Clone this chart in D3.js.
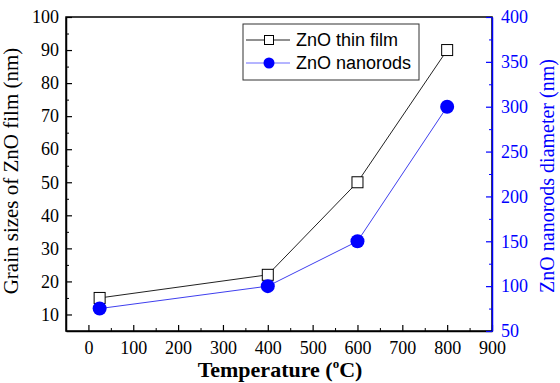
<!DOCTYPE html>
<html>
<head>
<meta charset="utf-8">
<script src="https://cdn.jsdelivr.net/npm/d3@7"></script>
<style>
  body { margin: 0; background: #fff; }
  svg { display: block; }
</style>
</head>
<body>
<div id="chart"></div>
<script>
// data
var temperatures = [25, 400, 600, 800];
var filmGrain = [15, 22, 50, 90];          // left axis, nm
var rodDiameter = [75, 100, 150, 300];     // right axis, nm
var xTicks = [0, 100, 200, 300, 400, 500, 600, 700, 800, 900];
var yLeftTicks = [10, 20, 30, 40, 50, 60, 70, 80, 90, 100];
var yRightTicks = [50, 100, 150, 200, 250, 300, 350, 400];
var seriesNames = ["ZnO thin film", "ZnO nanorods"];

var svgWidth = 560, svgHeight = 383;
var margin = { top: 17, right: 68, bottom: 52, left: 66 };
var width = svgWidth - margin.left - margin.right;
var height = svgHeight - margin.top - margin.bottom;
var blue = "#0000ff";
var lineBlue = "#3f3fee";
var serif = "'Liberation Serif', 'Times New Roman', serif";
var sans = "'Liberation Sans', Arial, sans-serif";

var svg = d3.select("#chart").append("svg")
    .attr("width", svgWidth)
    .attr("height", svgHeight)
    .append("g")
    .attr("transform", "translate(" + margin.left + "," + margin.top + ")");

var x = d3.scaleLinear().domain([-50, 900]).range([0, width]);
var yL = d3.scaleLinear().domain([5, 100]).range([height, 0]);
var yR = d3.scaleLinear().domain([50, 400]).range([height, 0]);

// frame
svg.append("rect")
    .attr("width", width).attr("height", height)
    .attr("fill", "none").attr("stroke", "#000").attr("stroke-width", 1.5);

function styleAxis(g, color) {
    g.attr("font-family", serif).attr("font-size", 18);
    g.select(".domain").attr("stroke", color).attr("stroke-width", 1.5);
    g.selectAll(".tick line").attr("stroke", color).attr("stroke-width", 1.2);
    g.selectAll("text").attr("fill", color)
        .style("font-family", serif).style("font-size", "18px");
}

// minor ticks
var xMinor = d3.range(50, 900, 100);
var yLMinor = d3.range(15, 100, 10);
var yRMinor = d3.range(75, 400, 50);

svg.append("g").attr("transform", "translate(0," + height + ")")
    .call(d3.axisBottom(x).tickValues(xMinor).tickSize(-3).tickFormat(""))
    .call(function(g) { g.select(".domain").remove(); g.selectAll("line").attr("stroke", "#000"); });
svg.append("g")
    .call(d3.axisLeft(yL).tickValues(yLMinor).tickSize(-3).tickFormat(""))
    .call(function(g) { g.select(".domain").remove(); g.selectAll("line").attr("stroke", "#000"); });
svg.append("g").attr("transform", "translate(" + width + ",0)")
    .call(d3.axisRight(yR).tickValues(yRMinor).tickSize(-3).tickFormat(""))
    .call(function(g) { g.select(".domain").remove(); g.selectAll("line").attr("stroke", blue); });

// major axes
var xAxisG = svg.append("g").attr("transform", "translate(0," + height + ")")
    .call(d3.axisBottom(x).tickValues(xTicks).tickSize(-6).tickPadding(10).tickSizeOuter(0));
styleAxis(xAxisG, "#000");

var yLAxisG = svg.append("g")
    .call(d3.axisLeft(yL).tickValues(yLeftTicks).tickSize(-6).tickPadding(7).tickSizeOuter(0));
styleAxis(yLAxisG, "#000");

var yRAxisG = svg.append("g").attr("transform", "translate(" + width + ",0)")
    .call(d3.axisRight(yR).tickValues(yRightTicks).tickSize(-6).tickPadding(9).tickSizeOuter(0));
styleAxis(yRAxisG, blue);

// axis titles
svg.append("text")
    .attr("transform", "translate(" + (-48) + "," + (height / 2 - 3) + ") rotate(-90)")
    .attr("text-anchor", "middle")
    .style("font-family", serif).style("font-size", "21px")
    .text("Grain sizes of ZnO film (nm)");

svg.append("text")
    .attr("transform", "translate(" + (width + 62) + "," + (height / 2 + 2) + ") rotate(-90)")
    .attr("text-anchor", "middle")
    .style("font-family", serif).style("font-size", "20px")
    .attr("fill", blue)
    .text("ZnO nanorods diameter (nm)");

var xTitle = svg.append("text")
    .attr("x", width / 2 + 1).attr("y", height + 46)
    .attr("text-anchor", "middle")
    .style("font-family", serif).style("font-size", "22px").attr("font-weight", "bold");
xTitle.append("tspan").text("Temperature (");
xTitle.append("tspan").style("font-size", "13px").attr("dy", -9).text("o");
xTitle.append("tspan").attr("dy", 9).text("C)");

// series
var filmData = temperatures.map(function(t, i) { return { t: t, v: filmGrain[i] }; });
var rodData = temperatures.map(function(t, i) { return { t: t, v: rodDiameter[i] }; });

svg.append("path").datum(filmData)
    .attr("fill", "none").attr("stroke", "#222").attr("stroke-width", 1)
    .attr("d", d3.line().x(function(d) { return x(d.t); }).y(function(d) { return yL(d.v); }));

svg.append("path").datum(rodData)
    .attr("fill", "none").attr("stroke", lineBlue).attr("stroke-width", 1)
    .attr("d", d3.line().x(function(d) { return x(d.t); }).y(function(d) { return yR(d.v); }));

var sq = 11;
svg.selectAll(".film").data(filmData).enter().append("rect")
    .attr("class", "film")
    .attr("x", function(d) { return x(d.t) - sq / 2; })
    .attr("y", function(d) { return yL(d.v) - sq / 2; })
    .attr("width", sq).attr("height", sq)
    .attr("fill", "#fff").attr("stroke", "#000").attr("stroke-width", 1);

svg.selectAll(".rod").data(rodData).enter().append("circle")
    .attr("class", "rod")
    .attr("cx", function(d) { return x(d.t); })
    .attr("cy", function(d) { return yR(d.v); })
    .attr("r", 7)
    .attr("fill", blue);

// legend
var legend = svg.append("g").attr("transform", "translate(" + (243 - margin.left) + "," + (24 - margin.top) + ")");
legend.append("rect")
    .attr("width", 176).attr("height", 56)
    .attr("fill", "#fff").attr("stroke", "#333").attr("stroke-width", 1);

var legendRows = legend.selectAll(".row").data(seriesNames).enter().append("g")
    .attr("transform", function(d, i) { return "translate(0," + (16 + i * 23) + ")"; });

legendRows.append("line")
    .attr("x1", 3).attr("x2", 47)
    .attr("stroke", function(d, i) { return i === 0 ? "#222" : "#6a6aff"; });

legendRows.each(function(d, i) {
    var g = d3.select(this);
    if (i === 0) {
        g.append("rect").attr("x", 26 - 4.5).attr("y", -4.5).attr("width", 9).attr("height", 9)
            .attr("fill", "#fff").attr("stroke", "#000");
    } else {
        g.append("circle").attr("cx", 26).attr("r", 5.5).attr("fill", blue);
    }
});

legendRows.append("text")
    .attr("x", 53).attr("dy", "0.35em")
    .style("font-family", sans).style("font-size", "18px")
    .text(function(d) { return d; });
</script>
</body>
</html>
